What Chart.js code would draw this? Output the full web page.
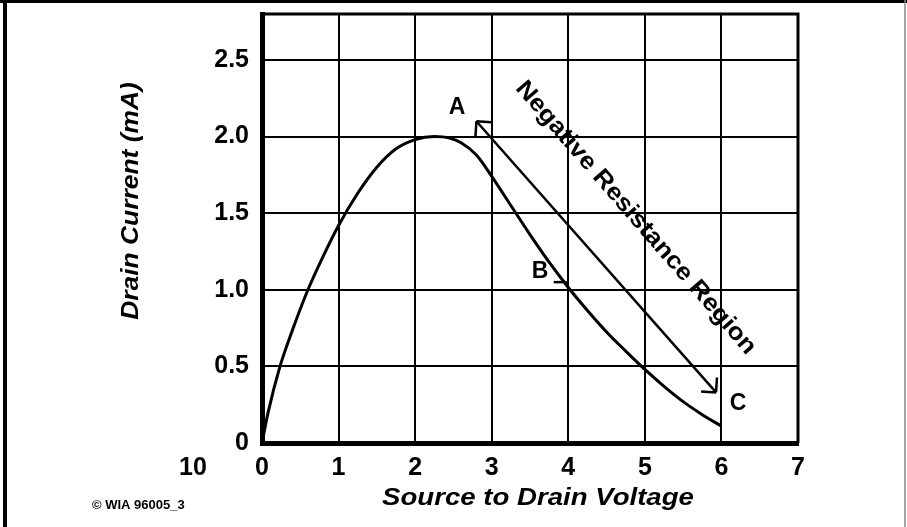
<!DOCTYPE html>
<html>
<head>
<meta charset="utf-8">
<script src="https://cdn.jsdelivr.net/npm/chart.js@4.4.1/dist/chart.umd.min.js"></script>
<style>
  html, body { margin: 0; padding: 0; background: #fff; }
  canvas { display: block; }
</style>
</head>
<body>
<canvas id="chart" width="907" height="527"></canvas>
<script>
// drain current curve
var voltage = [0, 0.08, 0.235, 0.4, 0.6, 0.8, 1.0, 1.25, 1.5, 1.75, 2.0, 2.25, 2.45, 2.6, 2.8, 3.0, 3.25, 3.5, 3.75, 4.0, 4.25, 4.5, 4.75, 5.0, 5.25, 5.5, 5.75, 6.0];
var current = [0, 0.2, 0.5, 0.74, 1.0, 1.22, 1.42, 1.63, 1.8, 1.92, 1.98, 2.0, 1.99, 1.96, 1.88, 1.74, 1.55, 1.36, 1.18, 1.015, 0.865, 0.725, 0.6, 0.48, 0.37, 0.27, 0.185, 0.11];

// A -> C arrow
var arrowVoltage = [2.8, 5.93];
var arrowCurrent = [2.1, 0.33];

var xTicks = [0, 1, 2, 3, 4, 5, 6, 7];
var yTicks = [0, 0.5, 1.0, 1.5, 2.0, 2.5];
var yTickLabels = ['0', '0.5', '1.0', '1.5', '2.0', '2.5'];

var FONT = 'Arial, "Liberation Sans", Helvetica, sans-serif';

function toPoints(xs, ys) {
  return xs.map(function(x, i) { return { x: x, y: ys[i] }; });
}

function stretchedText(ctx, text, x, y, angle, sx) {
  ctx.save();
  ctx.translate(x, y);
  ctx.rotate(angle);
  ctx.scale(sx, 1);
  ctx.fillText(text, 0, 0);
  ctx.restore();
}

function arrowHead(ctx, tip, from, len) {
  var a = Math.atan2(from.y - tip.y, from.x - tip.x);
  [-Math.PI / 4, Math.PI / 4].forEach(function(d) {
    ctx.beginPath();
    ctx.moveTo(tip.x, tip.y);
    ctx.lineTo(tip.x + len * Math.cos(a + d), tip.y + len * Math.sin(a + d));
    ctx.stroke();
  });
}

var extras = {
  id: 'extras',
  beforeDraw: function(chart) {
    var ctx = chart.ctx;
    ctx.save();
    ctx.fillStyle = '#fff';
    ctx.fillRect(0, 0, chart.width, chart.height);
    ctx.restore();
  },
  afterDraw: function(chart) {
    var ctx = chart.ctx;
    var a = chart.chartArea;
    var xs = chart.scales.x, ys = chart.scales.y;
    ctx.save();
    ctx.strokeStyle = '#000';
    ctx.fillStyle = '#000';
    ctx.lineCap = 'butt';

    // top and right edge of the plot
    ctx.lineWidth = 3;
    ctx.beginPath();
    ctx.moveTo(a.left, a.top);
    ctx.lineTo(a.right, a.top);
    ctx.lineTo(a.right, a.bottom);
    ctx.stroke();

    // arrow heads
    var pA = { x: xs.getPixelForValue(arrowVoltage[0]), y: ys.getPixelForValue(arrowCurrent[0]) };
    var pC = { x: xs.getPixelForValue(arrowVoltage[1]), y: ys.getPixelForValue(arrowCurrent[1]) };
    ctx.lineWidth = 2.5;
    arrowHead(ctx, pA, pC, 15);
    arrowHead(ctx, pC, pA, 15);

    // B marker
    ctx.beginPath();
    ctx.moveTo(xs.getPixelForValue(3.81), ys.getPixelForValue(1.05));
    ctx.lineTo(xs.getPixelForValue(3.98), ys.getPixelForValue(1.05));
    ctx.stroke();

    ctx.textAlign = 'center';
    ctx.textBaseline = 'middle';
    ctx.font = 'bold 23px ' + FONT;
    ctx.fillText('A', 457, 108);
    ctx.fillText('B', 540, 272);
    ctx.fillText('C', 738, 404);

    ctx.font = 'bold 24px ' + FONT;
    stretchedText(ctx, 'Negative Resistance Region',
      xs.getPixelForValue(4.88), ys.getPixelForValue(1.47), 49 * Math.PI / 180, 1.1);

    ctx.font = 'italic bold 24px ' + FONT;
    stretchedText(ctx, 'Drain Current (mA)', 131, 201, -Math.PI / 2, 1.1);
    stretchedText(ctx, 'Source to Drain Voltage', 538, 498, 0, 1.15);

    ctx.font = 'bold 25px ' + FONT;
    ctx.fillText('10', 193, 468);

    ctx.font = 'bold 13px ' + FONT;
    ctx.textAlign = 'left';
    ctx.fillText('\u00A9 WIA 96005_3', 92, 505);

    // page border
    ctx.lineWidth = 3;
    ctx.beginPath();
    ctx.moveTo(0, 1.5);
    ctx.lineTo(chart.width, 1.5);
    ctx.stroke();
    ctx.lineWidth = 4;
    ctx.beginPath();
    ctx.moveTo(5, 0);
    ctx.lineTo(5, chart.height);
    ctx.stroke();
    ctx.strokeStyle = '#888';
    ctx.lineWidth = 1.5;
    ctx.beginPath();
    ctx.moveTo(905, 0);
    ctx.lineTo(905, chart.height);
    ctx.stroke();
    ctx.restore();
  }
};

new Chart(document.getElementById('chart').getContext('2d'), {
  type: 'scatter',
  data: {
    datasets: [{
      data: toPoints(voltage, current),
      showLine: true,
      borderColor: '#000',
      borderWidth: 3,
      pointRadius: 0,
      cubicInterpolationMode: 'monotone',
      fill: false
    }, {
      data: toPoints(arrowVoltage, arrowCurrent),
      showLine: true,
      borderColor: '#000',
      borderWidth: 2.5,
      pointRadius: 0,
      fill: false
    }]
  },
  options: {
    responsive: false,
    animation: false,
    devicePixelRatio: 1,
    layout: { padding: { left: 0, top: 0, right: 109, bottom: 0 } },
    plugins: { legend: { display: false }, tooltip: { enabled: false } },
    scales: {
      x: {
        type: 'linear',
        min: 0,
        max: 7,
        afterBuildTicks: function(s) { s.ticks = xTicks.map(function(v) { return { value: v }; }); },
        afterFit: function(s) { s.height = 84; },
        grid: { color: '#000', lineWidth: 2, drawTicks: false },
        border: { display: true, color: '#000', width: 5 },
        ticks: {
          color: '#000',
          padding: 10,
          font: { family: FONT, size: 25, weight: 'bold' },
          callback: function(v) { return String(v); }
        }
      },
      y: {
        type: 'linear',
        min: 0,
        max: 2.8,
        afterBuildTicks: function(s) { s.ticks = yTicks.map(function(v) { return { value: v }; }); },
        afterFit: function(s) { s.width = 262; s.paddingTop = 14; s.paddingBottom = 0; },
        grid: { color: '#000', lineWidth: 2, drawTicks: false },
        border: { display: true, color: '#000', width: 5 },
        ticks: {
          color: '#000',
          padding: 13,
          font: { family: FONT, size: 25, weight: 'bold' },
          callback: function(v, i) { return yTickLabels[i]; }
        }
      }
    }
  },
  plugins: [extras]
});
</script>
</body>
</html>
